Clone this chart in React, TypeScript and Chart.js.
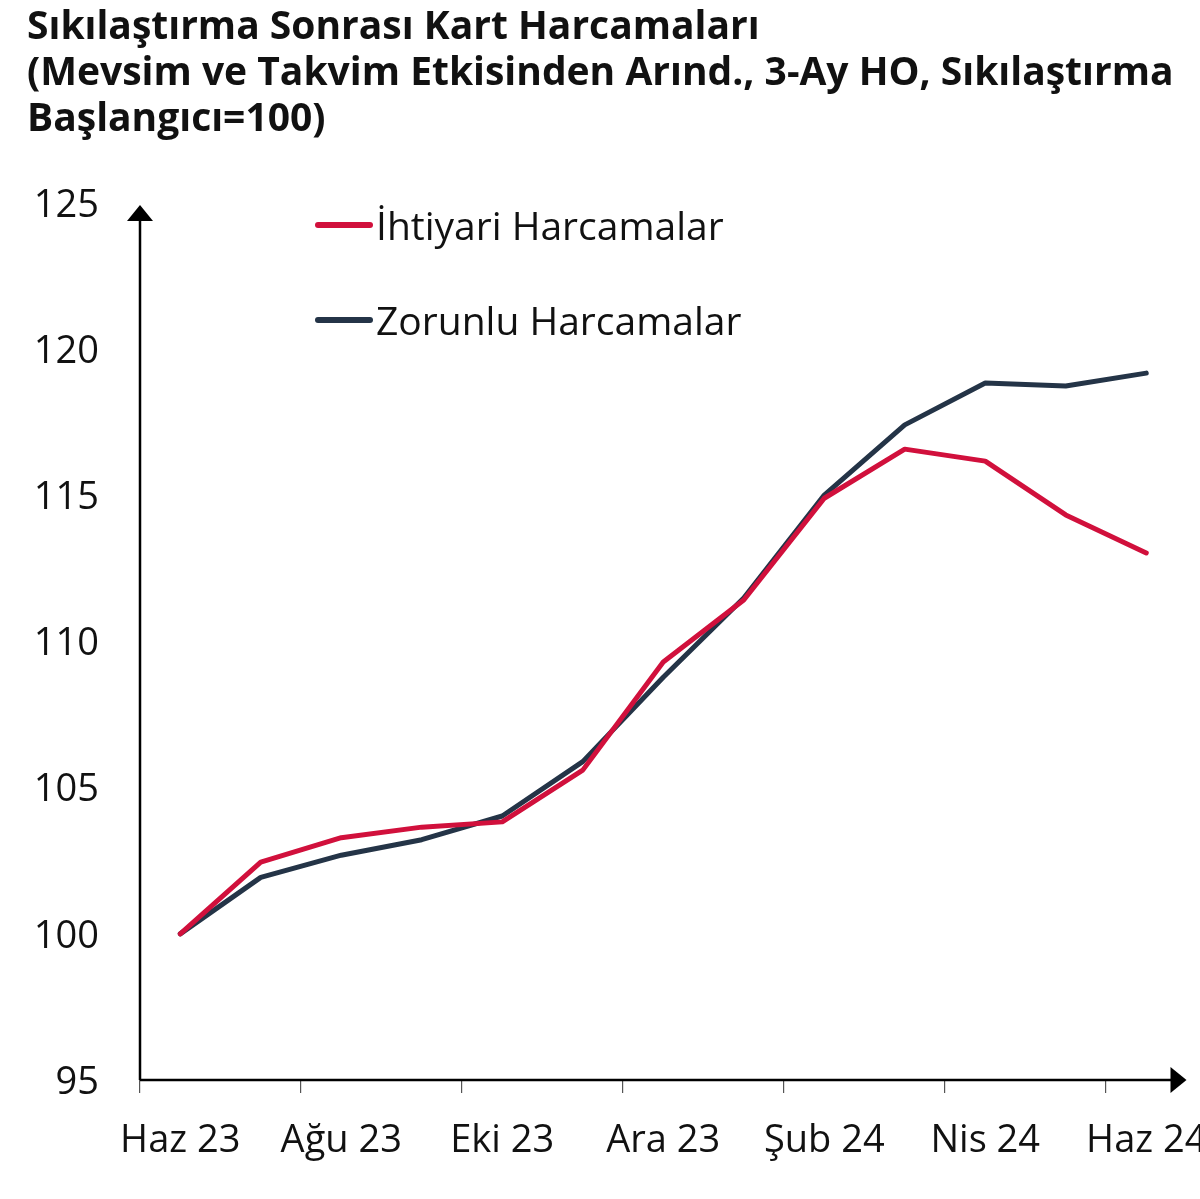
import { useEffect, useRef } from 'react';
import Chart from 'chart.js/auto';

// aylar (her ay bir nokta, etiket iki ayda bir)
const months = [
    'Haz 23', 'Tem 23', 'Ağu 23', 'Eyl 23', 'Eki 23', 'Kas 23', 'Ara 23',
    'Oca 24', 'Şub 24', 'Mar 24', 'Nis 24', 'May 24', 'Haz 24'
];
const ihtiyari = [100, 102.45, 103.29, 103.65, 103.83, 105.6, 109.3, 111.42, 114.9, 116.58, 116.17, 114.33, 113.03];
const zorunlu = [100, 101.93, 102.69, 103.22, 104.03, 105.89, 108.78, 111.49, 115.01, 117.41, 118.84, 118.74, 119.18];
const yTicks = [95, 100, 105, 110, 115, 120, 125];

const titleLines = [
    'Sıkılaştırma Sonrası Kart Harcamaları',
    '(Mevsim ve Takvim Etkisinden Arınd., 3-Ay HO, Sıkılaştırma',
    'Başlangıcı=100)'
];

const RED = '#D1103C';
const NAVY = '#243447';
const FONT = "'Open Sans', 'Noto Sans', sans-serif";

// eksen çizgileri ve ok uçları
const axisArrows = {
    id: 'axisArrows',
    afterDraw(chart: Chart) {
        const { ctx, chartArea } = chart;
        const { left, right, top, bottom } = chartArea;
        ctx.save();
        ctx.strokeStyle = '#000';
        ctx.fillStyle = '#000';
        ctx.lineWidth = 2.5;
        ctx.beginPath();
        ctx.moveTo(left, bottom);
        ctx.lineTo(left, top + 14);
        ctx.moveTo(left, bottom);
        ctx.lineTo(right - 14, bottom);
        ctx.stroke();
        ctx.beginPath();
        ctx.moveTo(left, top + 2);
        ctx.lineTo(left - 13, top + 18);
        ctx.lineTo(left + 13, top + 18);
        ctx.closePath();
        ctx.fill();
        ctx.beginPath();
        ctx.moveTo(right, bottom);
        ctx.lineTo(right - 16, bottom - 13);
        ctx.lineTo(right - 16, bottom + 13);
        ctx.closePath();
        ctx.fill();
        ctx.restore();
    }
};

export default function App() {
    const canvasRef = useRef<HTMLCanvasElement | null>(null);

    useEffect(() => {
        if (!canvasRef.current) return;
        const chart = new Chart(canvasRef.current, {
            type: 'line',
            data: {
                labels: months,
                datasets: [
                    {
                        label: 'İhtiyari Harcamalar',
                        data: ihtiyari,
                        borderColor: RED,
                        borderWidth: 5,
                        pointRadius: 0,
                        tension: 0,
                        borderCapStyle: 'round',
                        borderJoinStyle: 'round'
                    },
                    {
                        label: 'Zorunlu Harcamalar',
                        data: zorunlu,
                        borderColor: NAVY,
                        borderWidth: 5,
                        pointRadius: 0,
                        tension: 0,
                        borderCapStyle: 'round',
                        borderJoinStyle: 'round'
                    }
                ]
            },
            options: {
                responsive: true,
                maintainAspectRatio: false,
                animation: false,
                // canvas sayfadan geniş, son etiket sağda kırpılsın diye
                layout: { padding: { top: 203, right: 73.5, left: 0, bottom: 0 } },
                plugins: {
                    legend: { display: false },
                    tooltip: { enabled: false },
                    title: { display: false }
                },
                scales: {
                    x: {
                        type: 'category',
                        offset: true,
                        afterFit: (s: any) => { s.height = 119; },
                        border: { display: false },
                        grid: {
                            offset: true,
                            drawOnChartArea: false,
                            drawTicks: true,
                            tickLength: 13,
                            lineWidth: 1.2,
                            color: (c: any) => (typeof c.index === 'number' && c.index % 2 === 0 ? '#555' : 'rgba(0,0,0,0)'),
                            tickColor: (c: any) => (typeof c.index === 'number' && c.index % 2 === 0 ? '#555' : 'rgba(0,0,0,0)')
                        },
                        ticks: {
                            autoSkip: false,
                            maxRotation: 0,
                            minRotation: 0,
                            padding: 25,
                            color: '#111',
                            font: { family: FONT, size: 38 },
                            callback: (_v: any, i: number) => (i % 2 === 0 ? months[i] : '')
                        }
                    },
                    y: {
                        min: 95,
                        max: 125,
                        afterFit: (s: any) => { s.width = 140; },
                        afterBuildTicks: (s: any) => { s.ticks = yTicks.map(v => ({ value: v })); },
                        border: { display: false },
                        grid: { display: false, drawTicks: false },
                        ticks: {
                            padding: 41,
                            labelOffset: 3,
                            color: '#111',
                            font: { family: FONT, size: 38 }
                        }
                    }
                }
            },
            plugins: [axisArrows]
        });
        return () => chart.destroy();
    }, []);

    const legendItems = [
        { label: 'İhtiyari Harcamalar', color: RED, y: 225 },
        { label: 'Zorunlu Harcamalar', color: NAVY, y: 320 }
    ];

    return (
        <div style={{ position: 'absolute', left: 0, top: 0, width: 1200, height: 1199, overflow: 'hidden', background: '#fff' }}>
            <div style={{ position: 'absolute', left: 0, top: 0, width: 1260, height: 1199 }}>
                <canvas ref={canvasRef} />
            </div>
            <div style={{ position: 'absolute', left: 27, top: 1, fontFamily: FONT, fontWeight: 700, fontSize: 39, lineHeight: '46px', color: '#111', whiteSpace: 'nowrap' }}>
                {titleLines.map(t => <div key={t}>{t}</div>)}
            </div>
            {legendItems.map(it => (
                <div key={it.label} style={{ position: 'absolute', left: 315, top: it.y - 23, height: 46, display: 'flex', alignItems: 'center', fontFamily: FONT, fontSize: 39, lineHeight: '46px', color: '#111', whiteSpace: 'nowrap' }}>
                    <span style={{ display: 'inline-block', width: 58, height: 6, borderRadius: 3, background: it.color, marginRight: 3 }} />
                    <span>{it.label}</span>
                </div>
            ))}
        </div>
    );
}
